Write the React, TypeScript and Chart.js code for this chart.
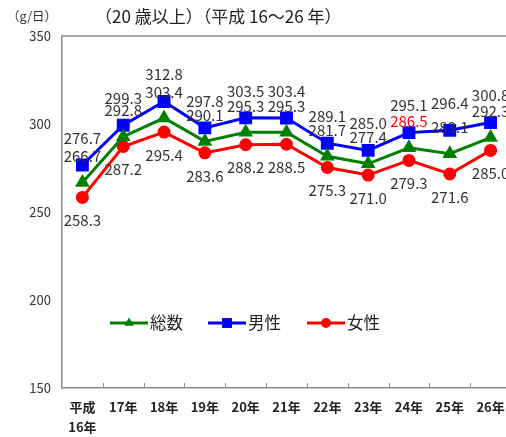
import React, { useEffect, useRef } from "react";
import { Chart, registerables } from "chart.js";

Chart.register(...registerables);

// 1日あたりの野菜摂取量 (g/日)、20歳以上、平成16〜26年
const years: (string | string[])[] = [
  ["平成", "16年"],
  "17年",
  "18年",
  "19年",
  "20年",
  "21年",
  "22年",
  "23年",
  "24年",
  "25年",
  "26年",
];
const totalValues = [266.7, 292.8, 303.4, 290.1, 295.3, 295.3, 281.7, 277.4, 286.5, 283.1, 292.3];
const maleValues = [276.7, 299.3, 312.8, 297.8, 303.5, 303.4, 289.1, 285.0, 295.1, 296.4, 300.8];
const femaleValues = [258.3, 287.2, 295.4, 283.6, 288.2, 288.5, 275.3, 271.0, 279.3, 271.6, 285.0];
const yTicks = [150, 200, 250, 300, 350];

const seriesNames = ["総数", "男性", "女性"];
const GREEN = "#008000";
const BLUE = "#0000ff";
const RED = "#ff0000";
const TEXT = "#333333";
const AXIS = "#8c8c8c";
const FONT = '"Noto Sans CJK JP", "Noto Sans", sans-serif';

// 24年の総数ラベルだけ赤字
const totalLabelColors = totalValues.map((_, i) => (i === 8 ? RED : TEXT));

const labelOffsets = [-26, -27, 23]; // 総数・男性は上、女性は下

function drawMarker(ctx: CanvasRenderingContext2D, style: string, x: number, y: number, r: number) {
  ctx.beginPath();
  if (style === "rect") {
    const s = Math.SQRT1_2 * r;
    ctx.rect(x - s, y - s, 2 * s, 2 * s);
  } else if (style === "triangle") {
    const h = r * 1.5;
    const half = (r * Math.sqrt(3)) / 2;
    ctx.moveTo(x, y - r);
    ctx.lineTo(x + half, y - r + h);
    ctx.lineTo(x - half, y - r + h);
    ctx.closePath();
  } else {
    ctx.arc(x, y, r, 0, Math.PI * 2);
  }
  ctx.fill();
}

const decorPlugin = {
  id: "decor",
  beforeDraw(chart: any) {
    const { ctx } = chart;
    ctx.save();
    ctx.fillStyle = "#ffffff";
    ctx.fillRect(0, 0, chart.width, chart.height);
    ctx.restore();
  },
  afterDraw(chart: any) {
    const { ctx, chartArea } = chart;
    const xs = chart.scales.x;
    ctx.save();
    // plot frame (top edge)
    ctx.strokeStyle = AXIS;
    ctx.lineWidth = 1.5;
    ctx.beginPath();
    ctx.moveTo(chartArea.left, chartArea.top);
    ctx.lineTo(chartArea.right, chartArea.top);
    ctx.stroke();
    // inward tick marks between categories
    ctx.lineWidth = 1;
    for (let i = 1; i < years.length; i++) {
      const x = Math.round((xs.getPixelForValue(i - 1) + xs.getPixelForValue(i)) / 2) + 0.5;
      ctx.beginPath();
      ctx.moveTo(x, chartArea.bottom);
      ctx.lineTo(x, chartArea.bottom - 5);
      ctx.stroke();
    }

    // unit and title
    ctx.fillStyle = TEXT;
    ctx.textBaseline = "middle";
    ctx.textAlign = "left";
    ctx.font = `12.5px ${FONT}`;
    ctx.fillText("（g/日）", 7, 16);
    ctx.fillStyle = "#222222";
    ctx.font = `17px ${FONT}`;
    ctx.fillText("（20 歳以上）（平成 16～26 年）", 95, 17);

    // legend
    const legendY = 323;
    const items = [
      { x: 110, color: GREEN, style: "triangle", r: 5.5 },
      { x: 208, color: BLUE, style: "rect", r: 7 },
      { x: 307, color: RED, style: "circle", r: 5 },
    ];
    items.forEach((it, k) => {
      ctx.strokeStyle = it.color;
      ctx.fillStyle = it.color;
      ctx.lineWidth = 3;
      ctx.beginPath();
      ctx.moveTo(it.x, legendY);
      ctx.lineTo(it.x + 38, legendY);
      ctx.stroke();
      drawMarker(ctx, it.style, it.x + 19, legendY, it.r);
      ctx.fillStyle = "#222222";
      ctx.font = `16.5px ${FONT}`;
      ctx.textAlign = "left";
      ctx.fillText(seriesNames[k], it.x + 40, legendY);
    });
    ctx.restore();
  },
  afterDatasetsDraw(chart: any) {
    const { ctx } = chart;
    ctx.save();
    ctx.font = `15px ${FONT}`;
    ctx.textAlign = "center";
    ctx.textBaseline = "middle";
    chart.data.datasets.forEach((ds: any, di: number) => {
      const meta = chart.getDatasetMeta(di);
      meta.data.forEach((pt: any, i: number) => {
        ctx.fillStyle = di === 0 ? totalLabelColors[i] : TEXT;
        ctx.fillText(ds.data[i].toFixed(1), pt.x, pt.y + labelOffsets[di]);
      });
    });
    ctx.restore();
  },
};

export default function App() {
  const canvasRef = useRef<HTMLCanvasElement | null>(null);

  useEffect(() => {
    if (!canvasRef.current) return;
    const chart = new Chart(canvasRef.current, {
      type: "line",
      data: {
        labels: years,
        datasets: [
          {
            label: seriesNames[0],
            data: totalValues,
            borderColor: GREEN,
            backgroundColor: GREEN,
            pointStyle: "triangle",
            pointRadius: 5.5,
            borderWidth: 3,
          },
          {
            label: seriesNames[1],
            data: maleValues,
            borderColor: BLUE,
            backgroundColor: BLUE,
            pointStyle: "rect",
            pointRadius: 7,
            borderWidth: 3,
          },
          {
            label: seriesNames[2],
            data: femaleValues,
            borderColor: RED,
            backgroundColor: RED,
            pointStyle: "circle",
            pointRadius: 5,
            borderWidth: 3,
          },
        ],
      },
      options: {
        responsive: false,
        animation: false,
        events: [],
        layout: { padding: { left: 0, top: 36, right: 19, bottom: 0 } },
        elements: { line: { tension: 0 }, point: { borderWidth: 0 } },
        plugins: {
          legend: { display: false },
          tooltip: { enabled: false },
        },
        scales: {
          x: {
            type: "category",
            offset: true,
            grid: { display: false, drawTicks: false },
            border: { display: true, color: AXIS, width: 1.5 },
            ticks: {
              color: "#222222",
              font: { family: FONT, size: 13, weight: "bold", lineHeight: 1.55 },
              padding: 9,
              maxRotation: 0,
              autoSkip: false,
            },
            afterFit: (scale: any) => {
              scale.height = 49;
            },
          },
          y: {
            min: 150,
            max: 350,
            afterBuildTicks: (scale: any) => {
              scale.ticks = yTicks.map((v) => ({ value: v }));
            },
            grid: { display: false, drawTicks: false },
            border: { display: true, color: AXIS, width: 1.5 },
            ticks: {
              color: "#333333",
              font: { family: FONT, size: 13 },
              padding: 11,
            },
            afterFit: (scale: any) => {
              scale.width = 62;
            },
          },
        },
      },
      plugins: [decorPlugin],
    });
    return () => chart.destroy();
  }, []);

  return (
    <div
      style={{
        position: "absolute",
        left: 0,
        top: 0,
        width: 506,
        height: 437,
        overflow: "hidden",
        background: "#ffffff",
      }}
    >
      <canvas ref={canvasRef} width={530} height={437} style={{ display: "block" }} />
    </div>
  );
}
